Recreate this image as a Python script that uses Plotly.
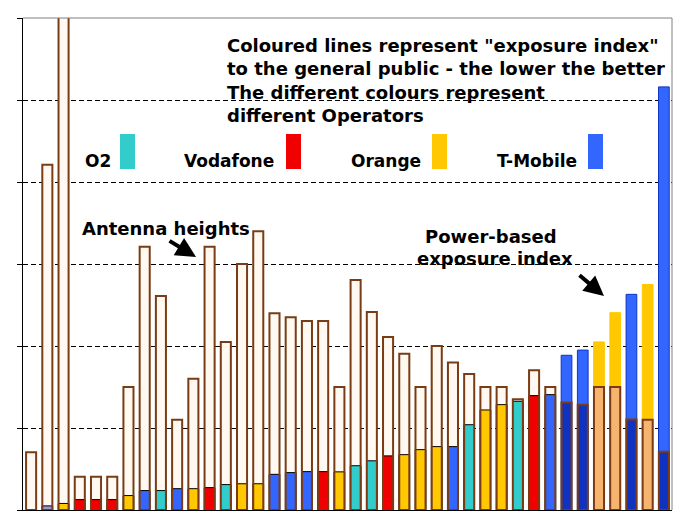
import plotly.graph_objects as go

# ---- data ----
antenna_heights = [7.05, 42.1, 65.0, 4.05, 4.05, 4.05, 15.0, 32.1, 26.1, 11.0,
                   16.0, 32.1, 20.5, 30.0, 34.0, 24.0, 23.5, 23.05, 23.05, 15.0,
                   28.05, 24.15, 21.1, 19.05, 15.0, 20.0, 18.0, 16.6, 15.0, 15.0,
                   13.5, 17.05, 15.0, 13.1, 12.85, 15.0, 15.0, 11.05, 11.0, 7.1]
exposure_index = [0.0, 0.5, 0.8, 1.27, 1.27, 1.27, 1.76, 2.37, 2.37, 2.6,
                  2.6, 2.73, 3.1, 3.2, 3.2, 4.35, 4.56, 4.68, 4.68, 4.65,
                  5.4, 6.0, 6.6, 6.75, 7.36, 7.73, 7.73, 10.4, 12.2, 12.85,
                  13.26, 13.95, 14.07, 18.87, 19.5, 20.5, 24.07, 26.3, 27.5, 51.6]
operators = ["None", "Other", "Orange", "Vodafone", "Vodafone", "Vodafone", "Orange",
             "T-Mobile", "O2", "T-Mobile", "Orange", "Vodafone", "O2", "Orange",
             "Orange", "T-Mobile", "T-Mobile", "T-Mobile", "Vodafone", "Orange",
             "O2", "O2", "Vodafone", "Orange", "Orange", "Orange", "T-Mobile",
             "O2", "Orange", "Orange", "O2", "Vodafone", "T-Mobile", "T-Mobile",
             "T-Mobile", "Orange", "Orange", "T-Mobile", "Orange", "T-Mobile"]
legend_operators = ["O2", "Vodafone", "Orange", "T-Mobile"]

# ---- styles ----
op_color = {"O2": "#33CCCC", "Vodafone": "#F00000", "Orange": "#FFC800",
            "T-Mobile": "#3366FF", "Other": "#9A98D0", "None": "rgba(0,0,0,0)"}
op_dark = {"O2": "#1F9A9A", "Vodafone": "#B00000", "Orange": "#F6B46E",
           "T-Mobile": "#0F33C0", "Other": "#6F6DB0", "None": "rgba(0,0,0,0)"}
BROWN = "#7A3C14"
CREAM = "#FFF9F1"

n = len(antenna_heights)
x = list(range(n))
exp_colors = [op_color[o] for o in operators]
exp_line = []
overlap = []
overlap_colors = []
for a, e, o in zip(antenna_heights, exposure_index, operators):
    if e > a:
        exp_line.append(op_dark["T-Mobile"] if o == "T-Mobile" else op_color[o])
        overlap.append(a)
    else:
        exp_line.append("black" if e > 0 else "rgba(0,0,0,0)")
        overlap.append(None)
    overlap_colors.append(op_dark[o])

fig = go.Figure()
fig.add_trace(go.Bar(x=x, y=antenna_heights, width=0.62,
                     marker=dict(color=CREAM, line=dict(width=0))))
fig.add_trace(go.Bar(x=x, y=exposure_index, width=0.66,
                     marker=dict(color=exp_colors, line=dict(width=1, color=exp_line))))
fig.add_trace(go.Bar(x=x, y=overlap, width=0.62,
                     marker=dict(color=overlap_colors, line=dict(width=0))))
fig.add_trace(go.Bar(x=x, y=antenna_heights, width=0.62,
                     marker=dict(color="rgba(0,0,0,0)", line=dict(width=2, color=BROWN))))

W, H = 686, 528
OFF = 8  # page body margin
PL, PR, PT, PB = 23, 672, 18, 510  # plot area in page pixels
L = PL - OFF
T = PT - OFF
R = W + OFF - PR
B = H + OFF - PB
pw, ph = PR - PL, PB - PT


def px(xp):
    return (xp - PL) / pw


def py(yp):
    return (PB - yp) / ph


FONT = "DejaVu Sans"
annotations = []
lines = ['Coloured lines represent "exposure index"',
         'to the general public - the lower the better',
         'The different colours represent',
         'different Operators']
for i, t in enumerate(lines):
    annotations.append(dict(x=px(225), y=py(46 + 23 * i), xref="paper", yref="paper",
                            text="<b>%s</b>" % t, showarrow=False, xanchor="left",
                            yanchor="middle", font=dict(family=FONT, size=18, color="black")))

# legend labels and swatches
label_right = [113, 276, 423, 579]
sw_left = [120, 286, 432, 588]
shapes = []
for op, lr, sl in zip(legend_operators, label_right, sw_left):
    annotations.append(dict(x=px(lr), y=py(161), xref="paper", yref="paper",
                            text="<b>%s</b>" % op, showarrow=False, xanchor="right",
                            yanchor="middle", font=dict(family=FONT, size=17, color="black")))
    shapes.append(dict(type="rect", xref="paper", yref="paper",
                       x0=px(sl), x1=px(sl + 15), y0=py(169), y1=py(134),
                       fillcolor=op_color[op], line=dict(width=0)))

annotations.append(dict(x=px(80), y=py(228), xref="paper", yref="paper",
                        text="<b>Antenna heights</b>", showarrow=False, xanchor="left",
                        yanchor="middle", font=dict(family=FONT, size=18, color="black")))
annotations.append(dict(x=px(196), y=py(257), xref="paper", yref="paper", text="",
                        showarrow=True, ax=-28, ay=-17, arrowhead=2, arrowsize=1,
                        arrowwidth=4, arrowcolor="black"))
annotations.append(dict(x=px(491), y=py(236), xref="paper", yref="paper",
                        text="<b>Power-based</b>", showarrow=False, xanchor="center",
                        yanchor="middle", font=dict(family=FONT, size=18, color="black")))
annotations.append(dict(x=px(495), y=py(258), xref="paper", yref="paper",
                        text="<b>exposure index</b>", showarrow=False, xanchor="center",
                        yanchor="middle", font=dict(family=FONT, size=18, color="black")))
annotations.append(dict(x=px(604), y=py(296), xref="paper", yref="paper", text="",
                        showarrow=True, ax=-26, ay=-22, arrowhead=2, arrowsize=1,
                        arrowwidth=4, arrowcolor="black"))

# grey frame on top and right
shapes.append(dict(type="line", xref="paper", yref="paper", x0=0, x1=1, y0=1, y1=1,
                   line=dict(color="#808080", width=1)))
shapes.append(dict(type="line", xref="paper", yref="paper", x0=1, x1=1, y0=0, y1=1,
                   line=dict(color="#808080", width=1)))

fig.update_layout(
    width=W, height=H, margin=dict(l=L, r=R, t=T, b=B),
    barmode="overlay", showlegend=False,
    paper_bgcolor="white", plot_bgcolor="white",
    xaxis=dict(range=[-0.5, n - 0.5], showgrid=False, zeroline=False,
               showline=True, linecolor="black", linewidth=1,
               showticklabels=False, ticks=""),
    yaxis=dict(range=[0, 60], dtick=10, showgrid=True, gridcolor="black",
               gridwidth=1, griddash="5px,3px", zeroline=False,
               showline=True, linecolor="black", linewidth=1,
               ticks="outside", ticklen=5, tickcolor="black",
               showticklabels=False),
    annotations=annotations, shapes=shapes,
)

fig.write_html("out.html")
